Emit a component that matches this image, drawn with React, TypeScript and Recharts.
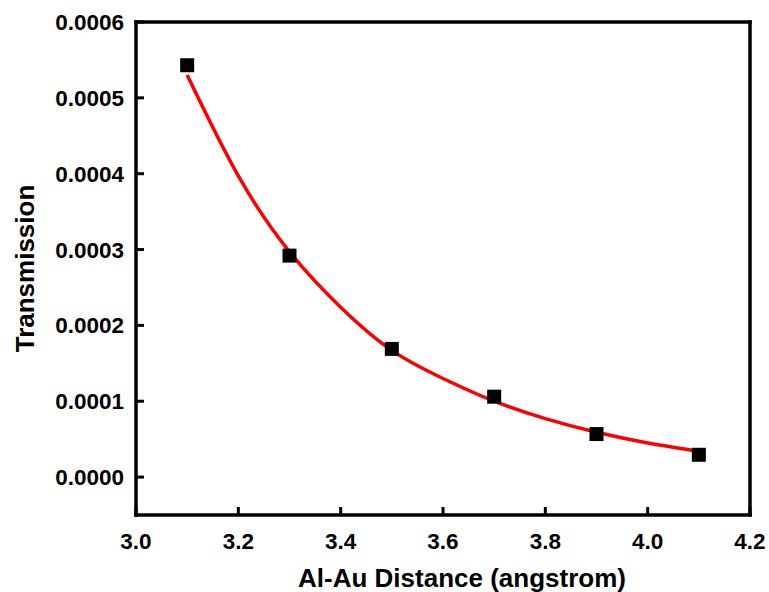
import { ComposedChart, Line, Scatter, XAxis, YAxis, Label } from "recharts";

// measured points
const distances = [3.1, 3.3, 3.5, 3.7, 3.9, 4.1];
const transmission = [0.000543, 0.000292, 0.000169, 0.000106, 0.0000567, 0.0000294];

// exponential fit curve, sampled every 0.1 angstrom
const fitDistances = [3.1, 3.2, 3.3, 3.4, 3.5, 3.6, 3.7, 3.8, 3.9, 4.0, 4.1];
const fitValues = [
  0.00053, 0.000397, 0.000297, 0.000224, 0.000167, 0.00013, 0.0001, 0.000077, 0.000059, 0.000045, 0.000034,
];

const xTicks = [3.0, 3.2, 3.4, 3.6, 3.8, 4.0, 4.2];
const xMinorTicks = [3.1, 3.3, 3.5, 3.7, 3.9, 4.1];
const yTicks = [0, 0.0001, 0.0002, 0.0003, 0.0004, 0.0005, 0.0006];
const yMinorTicks = [0.00005, 0.00015, 0.00025, 0.00035, 0.00045, 0.00055];

const points = distances.map((x, i) => ({ x, y: transmission[i] }));
const fit = fitDistances.map((x, i) => ({ x, y: fitValues[i] }));

const xDomain = [3.0, 4.2];
const yDomain = [-0.00005, 0.0006];

const font = "'Liberation Sans', Arial, Helvetica, sans-serif";
const tickStyle = { fontFamily: font, fontWeight: 700, fontSize: 22.5, fill: "#000" };
const frame = { stroke: "#000", strokeWidth: 3.5, strokeLinecap: "square" as const };
const tickPen = { stroke: "#000", strokeWidth: 3 };

const SquareDot = (props: any) => {
  const { cx, cy } = props;
  if (cx == null || cy == null) return null;
  return <rect x={cx - 7} y={cy - 7} width={14} height={14} fill="#000" />;
};

const XTitle = ({ viewBox }: any) => (
  <text
    x={viewBox.x + viewBox.width / 2 + 19}
    y={587}
    textAnchor="middle"
    style={{ fontFamily: font, fontWeight: 700, fontSize: 26, fill: "#000" }}
  >
    Al-Au Distance (angstrom)
  </text>
);

const YTitle = ({ viewBox }: any) => {
  const cy = viewBox.y + viewBox.height / 2;
  return (
    <text
      x={34}
      y={cy}
      textAnchor="middle"
      transform={`rotate(-90, 34, ${cy})`}
      style={{ fontFamily: font, fontWeight: 700, fontSize: 26, fill: "#000" }}
    >
      Transmission
    </text>
  );
};

export default function App() {
  return (
    <div style={{ position: "absolute", left: 0, top: 0, width: 769, height: 592, background: "#fff" }}>
      <ComposedChart width={769} height={592} margin={{ top: 22, right: 19, bottom: 0, left: 0 }}>
        <XAxis
          type="number"
          dataKey="x"
          domain={xDomain}
          allowDataOverflow
          ticks={xTicks}
          interval={0}
          height={77}
          axisLine={frame}
          tickLine={tickPen}
          tickSize={-8}
          tickMargin={26}
          tick={tickStyle}
          tickFormatter={(v: number) => v.toFixed(1)}
        >
          <Label content={<XTitle />} />
        </XAxis>
        {/* minor ticks, mirrored so they point into the plot */}
        <XAxis
          xAxisId="minor"
          type="number"
          dataKey="x"
          domain={xDomain}
          allowDataOverflow
          ticks={xMinorTicks}
          interval={0}
          mirror
          height={1}
          axisLine={false}
          tick={false}
          tickSize={5}
          tickLine={tickPen}
        />
        <XAxis
          xAxisId="top"
          orientation="top"
          type="number"
          domain={xDomain}
          mirror
          height={1}
          axisLine={frame}
          tick={false}
          tickLine={false}
        />
        <YAxis
          type="number"
          domain={yDomain}
          allowDataOverflow
          ticks={yTicks}
          interval={0}
          width={136}
          axisLine={frame}
          tickLine={tickPen}
          tickSize={-8}
          tickMargin={20}
          tick={tickStyle}
          tickFormatter={(v: number) => v.toFixed(4)}
        >
          <Label content={<YTitle />} />
        </YAxis>
        <YAxis
          yAxisId="minor"
          type="number"
          domain={yDomain}
          allowDataOverflow
          ticks={yMinorTicks}
          interval={0}
          mirror
          width={1}
          axisLine={false}
          tick={false}
          tickSize={5}
          tickLine={tickPen}
        />
        <YAxis
          yAxisId="right"
          orientation="right"
          type="number"
          domain={yDomain}
          mirror
          width={1}
          axisLine={frame}
          tick={false}
          tickLine={false}
        />
        <Scatter data={points} dataKey="y" shape={<SquareDot />} isAnimationActive={false} />
        <Line
          data={fit}
          dataKey="y"
          type="natural"
          stroke="#ff0000"
          strokeWidth={3.5}
          dot={false}
          activeDot={false}
          isAnimationActive={false}
        />
      </ComposedChart>
    </div>
  );
}
